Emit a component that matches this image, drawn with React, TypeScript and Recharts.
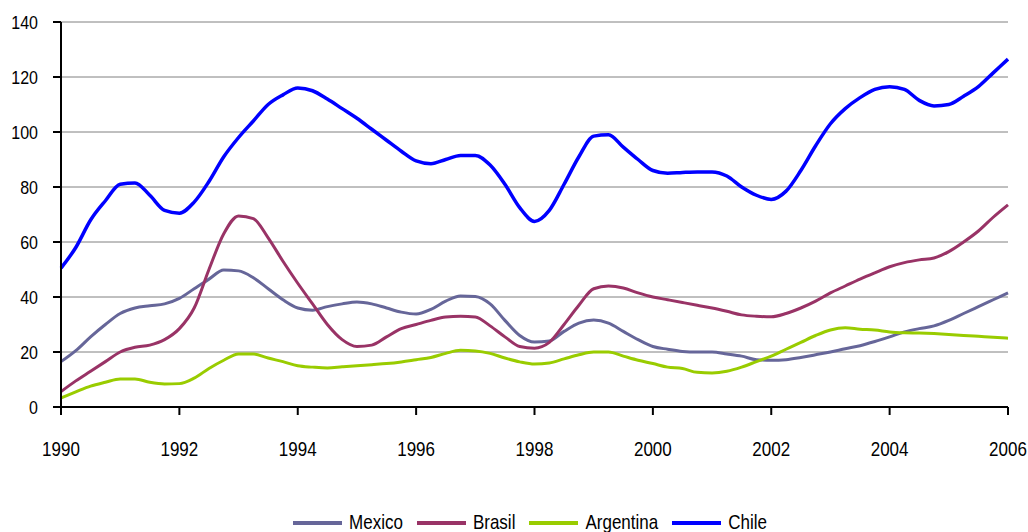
import React from "react";
import { LineChart, Line, XAxis, YAxis, CartesianGrid, Legend } from "recharts";

const yearTicks = [1990, 1992, 1994, 1996, 1998, 2000, 2002, 2004, 2006];
const valueTicks = [0, 20, 40, 60, 80, 100, 120, 140];

const mexico = [16.5, 20.5, 25.5, 30, 34, 36, 36.8, 37.5, 39.5, 43, 46.5, 49.8, 49.5, 47, 43, 39, 36, 35.2, 36.5, 37.5, 38.2, 37.5, 36, 34.5, 33.8, 35.5, 38.5, 40.4, 40.2, 37.5, 31.5, 26, 23.6, 24, 27.5, 30.5, 31.6, 30.5, 27.5, 24.5, 22, 21, 20.2, 20, 20, 19.3, 18.5, 17.2, 17, 17.2, 18, 19, 20, 21.2, 22.3, 23.8, 25.5, 27.3, 28.5, 29.5, 31.5, 34, 36.5, 39, 41.5];
const brasil = [5.6, 9.5, 13, 16.5, 20, 21.7, 22.5, 24.5, 28.5, 36, 50, 63, 69.5, 68.5, 61.5, 53, 45, 37.5, 30, 24.5, 22, 22.5, 25.5, 28.5, 30, 31.5, 32.7, 33, 32.7, 29.5, 25.5, 22, 21.4, 23.5, 30, 37, 43, 44, 43.3, 41.5, 40, 39, 38, 37, 36, 34.8, 33.5, 33, 32.8, 34, 36, 38.5, 41.5, 44, 46.5, 48.8, 51, 52.5, 53.5, 54.2, 56.5, 60, 64, 69, 73.5];
const argentina = [3.3, 5.5, 7.6, 9, 10.2, 10.2, 9, 8.4, 8.5, 10.5, 14, 17, 19.3, 19.3, 17.8, 16.5, 15, 14.5, 14.2, 14.6, 15, 15.4, 15.8, 16.4, 17.2, 18, 19.5, 20.6, 20.4, 19.5, 17.8, 16.4, 15.6, 16, 17.5, 19, 20, 20, 18.5, 17, 15.8, 14.5, 14, 12.6, 12.4, 13, 14.5, 16.5, 18.5, 21, 23.5, 26, 28, 28.8, 28.3, 28, 27.3, 27, 26.9, 26.7, 26.4, 26, 25.7, 25.4, 25];
const chile = [50.5, 58, 68, 75, 81, 81.5, 77, 71.5, 70.5, 74.5, 82, 91, 98, 104, 110, 113.5, 116, 115, 112, 108.5, 105, 101, 97, 93, 89.5, 88.5, 90, 91.5, 91.5, 88, 81, 72.5, 67.5, 71.5, 81, 91, 98.5, 99, 94.5, 90, 86, 85, 85.3, 85.5, 85.5, 84, 80, 77, 75.5, 78.5, 86, 95, 103, 108.5, 112.5, 115.5, 116.5, 115.5, 111.5, 109.5, 110, 113, 116.5, 121.5, 126.5];

const quarters = mexico.map((_, i) => 1990 + i / 4);

const data = quarters.map((q, i) => ({
  year: q,
  Mexico: mexico[i],
  Brasil: brasil[i],
  Argentina: argentina[i],
  Chile: chile[i],
}));

const FONT = "'Liberation Sans', Arial, sans-serif";

const series = [
  { key: "Mexico", color: "#666699", width: 3 },
  { key: "Brasil", color: "#993366", width: 3 },
  { key: "Argentina", color: "#99CC00", width: 3 },
  { key: "Chile", color: "#0000FF", width: 3.5 },
];

const XTick = (props: any) => {
  const { x, y, payload } = props;
  return (
    <g transform={`translate(${x},${y})`}>
      <text transform="scale(1,1.2)" textAnchor="middle" dy="0.71em" fill="#000" fontSize={17} fontFamily={FONT}>
        {payload.value}
      </text>
    </g>
  );
};

const YTick = (props: any) => {
  const { x, y, payload } = props;
  return (
    <g transform={`translate(${x},${y})`}>
      <text transform="scale(1,1.2)" textAnchor="end" dy="0.355em" fill="#000" fontSize={16} fontFamily={FONT}>
        {payload.value}
      </text>
    </g>
  );
};

const renderLegend = () => (
  <div style={{ display: "flex", justifyContent: "center", alignItems: "center", fontFamily: FONT, fontSize: 17, lineHeight: "22px", color: "#000", paddingLeft: 41, paddingTop: 8 }}>
    {series.map((s, i) => (
      <div key={s.key} style={{ display: "flex", alignItems: "center", marginRight: i === series.length - 1 ? 0 : 14 }}>
        <div style={{ width: 49, height: 4, background: s.color, marginRight: 7 }} />
        <span style={{ display: "inline-block", transform: "scaleY(1.15)" }}>{s.key}</span>
      </div>
    ))}
  </div>
);

export default function App() {
  return (
    <div style={{ position: "absolute", left: 0, top: 0, background: "#fff" }}>
      <LineChart width={1028} height={532} data={data} margin={{ top: 22, right: 20, left: 11, bottom: 0 }}>
        <CartesianGrid vertical={false} stroke="#808080" strokeWidth={1} />
        <XAxis
          dataKey="year"
          type="number"
          domain={[1990, 2006]}
          ticks={yearTicks}
          interval={0}
          height={97}
          tickSize={8}
          tickMargin={27}
          axisLine={{ stroke: "#000", strokeWidth: 2 }}
          tickLine={{ stroke: "#000", strokeWidth: 2 }}
          tick={<XTick />}
        />
        <YAxis
          domain={[0, 140]}
          ticks={valueTicks}
          interval={0}
          width={50}
          tickSize={8}
          tickMargin={15}
          axisLine={{ stroke: "#000", strokeWidth: 2 }}
          tickLine={{ stroke: "#000", strokeWidth: 2 }}
          tick={<YTick />}
        />
        {series.map((s) => (
          <Line
            key={s.key}
            type="monotone"
            dataKey={s.key}
            stroke={s.color}
            strokeWidth={s.width}
            dot={false}
            isAnimationActive={false}
          />
        ))}
        <Legend verticalAlign="bottom" height={28} content={renderLegend} />
      </LineChart>
    </div>
  );
}
